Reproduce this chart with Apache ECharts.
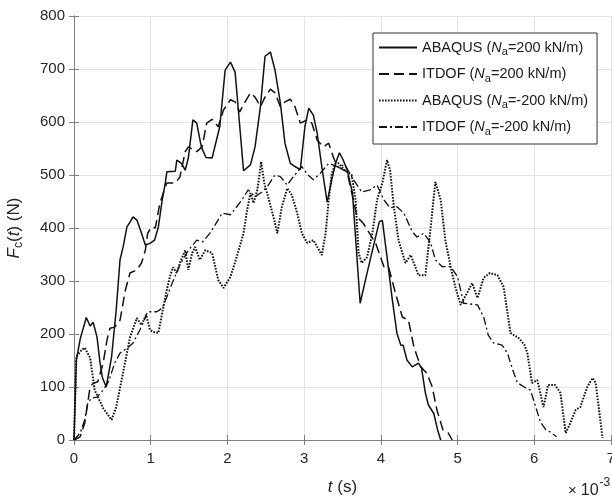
<!DOCTYPE html>
<html>
<head>
<meta charset="utf-8">
<script src="https://cdn.jsdelivr.net/npm/echarts@6/dist/echarts.min.js"></script>
<style>html,body{margin:0;padding:0;background:#fff}#c{width:612px;height:498px}</style>
</head>
<body>
<div id="c"></div>
<script>
// time in units of 1e-3 s, force in N
const seriesNames = ['ABAQUS (Na=200 kN/m)', 'ITDOF (Na=200 kN/m)', 'ABAQUS (Na=-200 kN/m)', 'ITDOF (Na=-200 kN/m)'];
const xTicks = [0, 1, 2, 3, 4, 5, 6, 7];
const yTicks = [0, 100, 200, 300, 400, 500, 600, 700, 800];

const tAbaqusPos = [0, 0.03, 0.08, 0.16, 0.21, 0.25, 0.30, 0.34, 0.37, 0.42, 0.49, 0.55, 0.60, 0.64, 0.69, 0.73, 0.77, 0.82, 0.88, 0.93, 0.99, 1.05, 1.10, 1.15, 1.19, 1.21, 1.32, 1.34, 1.40, 1.45, 1.49, 1.55, 1.60, 1.66, 1.72, 1.80, 1.90, 1.97, 2.04, 2.10, 2.15, 2.21, 2.30, 2.36, 2.43, 2.49, 2.56, 2.62, 2.69, 2.75, 2.82, 2.88, 2.95, 3.01, 3.06, 3.12, 3.17, 3.23, 3.30, 3.36, 3.41, 3.46, 3.51, 3.56, 3.63, 3.73, 3.82, 3.90, 3.98, 4.02, 4.08, 4.15, 4.21, 4.26, 4.29, 4.34, 4.41, 4.49, 4.53, 4.58, 4.62, 4.69, 4.74, 4.78];
const fAbaqusPos = [0, 150, 190, 231, 215, 222, 194, 145, 118, 100, 157, 245, 340, 364, 402, 411, 421, 415, 390, 368, 371, 377, 402, 453, 485, 506, 507, 528, 522, 509, 532, 604, 598, 553, 533, 532, 591, 698, 713, 694, 610, 508, 519, 553, 629, 724, 732, 698, 636, 560, 522, 516, 510, 591, 626, 613, 579, 516, 449, 491, 522, 542, 528, 510, 466, 258, 315, 364, 412, 414, 346, 264, 201, 179, 179, 151, 138, 145, 136, 89, 66, 50, 19, 0];

const tItdofPos = [0, 0.08, 0.14, 0.21, 0.25, 0.31, 0.38, 0.43, 0.47, 0.53, 0.60, 0.67, 0.73, 0.82, 0.88, 0.93, 0.96, 1.01, 1.06, 1.12, 1.21, 1.32, 1.38, 1.45, 1.49, 1.60, 1.67, 1.73, 1.80, 1.88, 1.95, 2.04, 2.10, 2.16, 2.23, 2.30, 2.36, 2.43, 2.49, 2.56, 2.62, 2.69, 2.75, 2.82, 2.88, 2.95, 3.04, 3.10, 3.17, 3.25, 3.32, 3.38, 3.43, 3.56, 3.69, 3.77, 3.93, 4.04, 4.10, 4.19, 4.28, 4.36, 4.43, 4.52, 4.60, 4.67, 4.73, 4.81, 4.88, 4.93];
const fItdofPos = [0, 6, 32, 100, 107, 110, 145, 189, 211, 213, 226, 283, 315, 321, 334, 358, 390, 402, 400, 447, 485, 485, 496, 544, 553, 544, 553, 598, 605, 591, 623, 642, 638, 619, 638, 655, 647, 629, 647, 662, 655, 629, 638, 643, 629, 598, 604, 598, 566, 553, 560, 534, 516, 506, 421, 409, 372, 327, 327, 277, 232, 226, 176, 138, 126, 100, 57, 19, 13, 0];

const tAbaqusNeg = [0, 0.03, 0.10, 0.14, 0.21, 0.27, 0.30, 0.38, 0.49, 0.55, 0.62, 0.69, 0.73, 0.82, 0.88, 0.94, 0.99, 1.03, 1.10, 1.15, 1.21, 1.25, 1.29, 1.34, 1.38, 1.45, 1.49, 1.54, 1.58, 1.64, 1.71, 1.80, 1.88, 1.95, 2.04, 2.12, 2.21, 2.25, 2.30, 2.34, 2.39, 2.44, 2.48, 2.53, 2.60, 2.65, 2.71, 2.78, 2.84, 2.91, 2.97, 3.04, 3.12, 3.18, 3.23, 3.28, 3.32, 3.36, 3.41, 3.45, 3.53, 3.62, 3.67, 3.71, 3.75, 3.82, 3.89, 3.95, 4.02, 4.08, 4.12, 4.17, 4.23, 4.32, 4.39, 4.49, 4.58, 4.65, 4.71, 4.78, 4.84, 4.91, 4.97, 5.04, 5.13, 5.19, 5.26, 5.34, 5.42, 5.52, 5.60, 5.69, 5.80, 5.87, 5.91, 5.97, 6.04, 6.12, 6.18, 6.27, 6.34, 6.41, 6.47, 6.54, 6.60, 6.69, 6.76, 6.80, 6.89];
const fAbaqusNeg = [0, 157, 170, 174, 155, 94, 85, 60, 38, 62, 113, 164, 194, 230, 217, 236, 208, 204, 202, 240, 283, 308, 326, 315, 334, 358, 321, 353, 364, 340, 358, 353, 302, 287, 308, 345, 390, 428, 466, 447, 472, 525, 485, 459, 421, 390, 440, 475, 462, 428, 390, 372, 377, 362, 349, 390, 453, 503, 522, 522, 509, 500, 453, 353, 334, 345, 390, 453, 485, 528, 509, 440, 377, 334, 349, 311, 311, 402, 487, 453, 377, 327, 289, 255, 279, 296, 268, 306, 315, 311, 289, 202, 192, 180, 164, 108, 113, 62, 104, 104, 89, 13, 32, 57, 62, 100, 117, 108, 4];

const tItdofNeg = [0, 0.08, 0.14, 0.18, 0.23, 0.30, 0.38, 0.45, 0.53, 0.60, 0.70, 0.77, 0.86, 0.96, 1.08, 1.15, 1.21, 1.28, 1.38, 1.49, 1.60, 1.68, 1.77, 1.84, 1.93, 2.04, 2.19, 2.27, 2.36, 2.45, 2.52, 2.62, 2.69, 2.78, 2.86, 2.97, 3.05, 3.12, 3.21, 3.32, 3.43, 3.53, 3.65, 3.75, 3.86, 3.95, 4.04, 4.12, 4.21, 4.30, 4.41, 4.47, 4.56, 4.65, 4.71, 4.80, 4.91, 5.00, 5.08, 5.26, 5.34, 5.40, 5.47, 5.58, 5.65, 5.72, 5.78, 5.89, 5.95, 6.02, 6.08, 6.15, 6.21, 6.29];
const fItdofNeg = [0, 13, 38, 70, 79, 81, 94, 110, 145, 164, 174, 183, 208, 242, 242, 249, 270, 296, 330, 358, 377, 374, 390, 406, 428, 425, 453, 472, 459, 468, 478, 500, 497, 481, 497, 516, 500, 491, 503, 522, 516, 519, 490, 468, 472, 481, 453, 438, 440, 428, 393, 383, 390, 372, 340, 327, 327, 308, 258, 255, 232, 198, 183, 179, 164, 132, 108, 98, 94, 62, 34, 19, 15, 6];

function zip(t, f) { return t.map((x, i) => [x, f[i]]); }

const FONT = 'Liberation Sans, Arial, sans-serif';
const legendRich = {
  n: { fontFamily: FONT, fontSize: 14.5, color: '#1a1a1a' },
  i: { fontFamily: FONT, fontSize: 14.5, fontStyle: 'italic', color: '#1a1a1a' },
  s: { fontFamily: FONT, fontSize: 11, color: '#1a1a1a', padding: [9, 0, 0, 0] }
};
function legendLabel(name) {
  const k = name.indexOf(' (Na=');
  if (k < 0) return name;
  const head = name.slice(0, k);
  const tail = name.slice(k + 5, name.length - 1);
  return '{n|' + head + ' (}{i|N}{s|a}{n|=' + tail + ')}';
}

const axisColor = '#808080';
const gridColor = '#e4e4e4';
const labelStyle = { fontFamily: FONT, fontSize: 15, color: '#262626' };

const chart = echarts.init(document.getElementById('c'), null, { renderer: 'canvas' });
chart.setOption({
  animation: false,
  backgroundColor: '#fff',
  grid: { left: 74, right: 1, top: 16, bottom: 58, containLabel: false, outerBoundsMode: 'none' },
  xAxis: [{
    type: 'value', min: xTicks[0], max: xTicks[xTicks.length - 1], interval: 1,
    axisLine: { show: true, onZero: false, lineStyle: { color: axisColor, width: 1 } },
    axisTick: { show: true, inside: true, length: 5, lineStyle: { color: axisColor } },
    splitLine: { show: true, lineStyle: { color: gridColor, width: 1 } },
    axisLabel: Object.assign({ margin: 11, showMaxLabel: true, showMinLabel: true, hideOverlap: false }, labelStyle),
    name: '{i|t}{n| (s)}', nameLocation: 'middle', nameGap: 39,
    nameTextStyle: { rich: {
      i: { fontFamily: FONT, fontSize: 17, fontStyle: 'italic', color: '#262626' },
      n: { fontFamily: FONT, fontSize: 17, color: '#262626' } } }
  }, {
    type: 'value', position: 'top', min: 0, max: 7, interval: 1,
    axisLine: { show: true, lineStyle: { color: axisColor } },
    axisTick: { show: true, inside: true, length: 5, lineStyle: { color: axisColor } },
    axisLabel: { show: false }, splitLine: { show: false }
  }],
  yAxis: [{
    type: 'value', min: yTicks[0], max: yTicks[yTicks.length - 1], interval: 100,
    axisLine: { show: true, onZero: false, lineStyle: { color: axisColor, width: 1 } },
    axisTick: { show: true, inside: true, length: 5, lineStyle: { color: axisColor } },
    splitLine: { show: true, lineStyle: { color: gridColor, width: 1 } },
    axisLabel: Object.assign({ margin: 9 }, labelStyle),
    name: '{i|F}{s|c}{n|(}{i|t}{n|) (N)}', nameLocation: 'middle', nameGap: 49, nameRotate: 90,
    nameTextStyle: { rich: {
      i: { fontFamily: FONT, fontSize: 17, fontStyle: 'italic', color: '#262626' },
      n: { fontFamily: FONT, fontSize: 17, color: '#262626' },
      s: { fontFamily: FONT, fontSize: 12, color: '#262626', padding: [10, 0, 0, 0] } } }
  }, {
    type: 'value', position: 'right', min: 0, max: 800, interval: 100,
    axisLine: { show: true, lineStyle: { color: axisColor } },
    axisTick: { show: true, inside: true, length: 5, lineStyle: { color: axisColor } },
    axisLabel: { show: false }, splitLine: { show: false }
  }],
  legend: {
    show: true,
    orient: 'vertical', left: 373, top: 33,
    data: seriesNames,
    itemWidth: 38, itemHeight: 14, itemGap: 9,
    padding: [7, 9, 7, 5],
    backgroundColor: '#fff', borderColor: '#333', borderWidth: 1,
    itemStyle: { opacity: 0 },
    formatter: legendLabel,
    textStyle: { rich: legendRich }
  },
  series: [
    { name: seriesNames[0], type: 'line', data: zip(tAbaqusPos, fAbaqusPos), showSymbol: false, symbol: 'none', z: 4,
      lineStyle: { color: '#111', width: 1.5, type: 'solid' }, itemStyle: { color: '#111' } },
    { name: seriesNames[1], type: 'line', data: zip(tItdofPos, fItdofPos), showSymbol: false, symbol: 'none', z: 3,
      lineStyle: { color: '#111', width: 1.5, type: [10, 5] }, itemStyle: { color: '#111' } },
    { name: seriesNames[2], type: 'line', data: zip(tAbaqusNeg, fAbaqusNeg), showSymbol: false, symbol: 'none', z: 2,
      lineStyle: { color: '#111', width: 2, type: [1.6, 1.4] }, itemStyle: { color: '#111' } },
    { name: seriesNames[3], type: 'line', data: zip(tItdofNeg, fItdofNeg), showSymbol: false, symbol: 'none', z: 1,
      lineStyle: { color: '#111', width: 1.3, type: [8, 3, 2, 3] }, itemStyle: { color: '#111' } }
  ],
  graphic: [{
    type: 'text', left: 568, top: 477, silent: true,
    style: {
      text: '{x|×}{n|10}{sup|-3}',
      rich: {
        x: { fontFamily: FONT, fontSize: 15, fill: '#262626', padding: [7, 0, 0, 0] },
        n: { fontFamily: FONT, fontSize: 16, fill: '#262626', padding: [7, 0, 0, 4] },
        sup: { fontFamily: FONT, fontSize: 12, fill: '#262626', padding: [0, 0, 8, 1] }
      }
    }
  }]
});
</script>
</body>
</html>
